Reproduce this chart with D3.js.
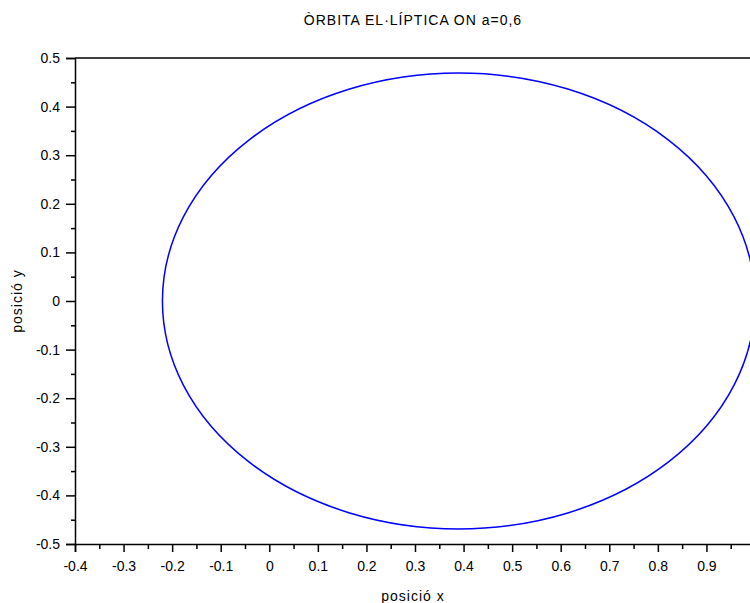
<!DOCTYPE html>
<html>
<head>
<meta charset="utf-8">
<script src="https://cdn.jsdelivr.net/npm/d3@7"></script>
<style>
  body { margin: 0; background: #fff; }
  text { font-family: "Liberation Sans", Arial, sans-serif; fill: #000; }
</style>
</head>
<body>
<script>
// chart values
const title = "ÒRBITA EL·LÍPTICA ON a=0,6";
const xLabel = "posició x";
const yLabel = "posició y";
const xDomain = [-0.4, 1.0];
const yDomain = [-0.5, 0.5];
const xTicks = [-0.4, -0.3, -0.2, -0.1, 0, 0.1, 0.2, 0.3, 0.4, 0.5, 0.6, 0.7, 0.8, 0.9];
const yTicks = [-0.5, -0.4, -0.3, -0.2, -0.1, 0, 0.1, 0.2, 0.3, 0.4, 0.5];
// orbit: centre and semi-axes
const orbitCenter = [0.39, 0];
const orbitRadii = [0.61, 0.469];

const width = 750, height = 603;
const margin = {top: 58, right: -5, bottom: 59, left: 75};

const svg = d3.select("body").append("svg")
  .attr("width", width)
  .attr("height", height);

const x = d3.scaleLinear().domain(xDomain).range([margin.left, width - margin.right]);
const y = d3.scaleLinear().domain(yDomain).range([height - margin.bottom, margin.top]);

// minor ticks halfway between majors
const xMinor = d3.range(xDomain[0] + 0.05, xDomain[1], 0.1);
const yMinor = d3.range(yDomain[0] + 0.05, yDomain[1], 0.1);

// box (top line, right side is off the page)
svg.append("line")
  .attr("x1", x(xDomain[0])).attr("x2", x(xDomain[1]))
  .attr("y1", y(yDomain[1])).attr("y2", y(yDomain[1]))
  .attr("stroke", "#000").attr("stroke-width", 1.5);
svg.append("line")
  .attr("x1", x(xDomain[1])).attr("x2", x(xDomain[1]))
  .attr("y1", y(yDomain[1])).attr("y2", y(yDomain[0]))
  .attr("stroke", "#000").attr("stroke-width", 1.5);

// x axis
const fmt = d => d === 0 ? "0" : d3.format(".1f")(d).replace("−", "-");
const gx = svg.append("g").attr("transform", `translate(0,${y(yDomain[0])})`);
gx.call(d3.axisBottom(x).tickValues(xTicks).tickSize(8).tickPadding(9).tickFormat(fmt));
gx.append("g").call(d3.axisBottom(x).tickValues(xMinor).tickSize(5).tickFormat(""))
  .select(".domain").remove();

// y axis
const gy = svg.append("g").attr("transform", `translate(${x(xDomain[0])},0)`);
gy.call(d3.axisLeft(y).tickValues(yTicks).tickSize(9).tickPadding(6).tickFormat(fmt));
gy.append("g").call(d3.axisLeft(y).tickValues(yMinor).tickSize(4).tickFormat(""))
  .select(".domain").remove();

svg.selectAll(".domain").attr("stroke-width", 1.5);
svg.selectAll(".tick line").attr("stroke-width", 1.5);
svg.selectAll(".tick text").style("font-size", "14px")
  .style("font-family", "'Liberation Sans', Arial, sans-serif");

// orbit
svg.append("ellipse")
  .attr("cx", x(orbitCenter[0]))
  .attr("cy", y(orbitCenter[1]))
  .attr("rx", x(orbitCenter[0] + orbitRadii[0]) - x(orbitCenter[0]))
  .attr("ry", y(orbitCenter[1]) - y(orbitCenter[1] + orbitRadii[1]))
  .attr("fill", "none")
  .attr("stroke", "#0000ff")
  .attr("stroke-width", 1.5);

// title and labels
svg.append("text")
  .attr("x", 413).attr("y", 25)
  .attr("text-anchor", "middle")
  .style("font-size", "14px")
  .style("letter-spacing", "1px")
  .text(title);

svg.append("text")
  .attr("x", 413).attr("y", 601)
  .attr("text-anchor", "middle")
  .style("font-size", "14px")
  .style("letter-spacing", "1px")
  .text(xLabel);

svg.append("text")
  .attr("transform", `translate(22,${y(0)}) rotate(-90)`)
  .attr("text-anchor", "middle")
  .style("font-size", "14px")
  .style("letter-spacing", "1px")
  .text(yLabel);
</script>
</body>
</html>
